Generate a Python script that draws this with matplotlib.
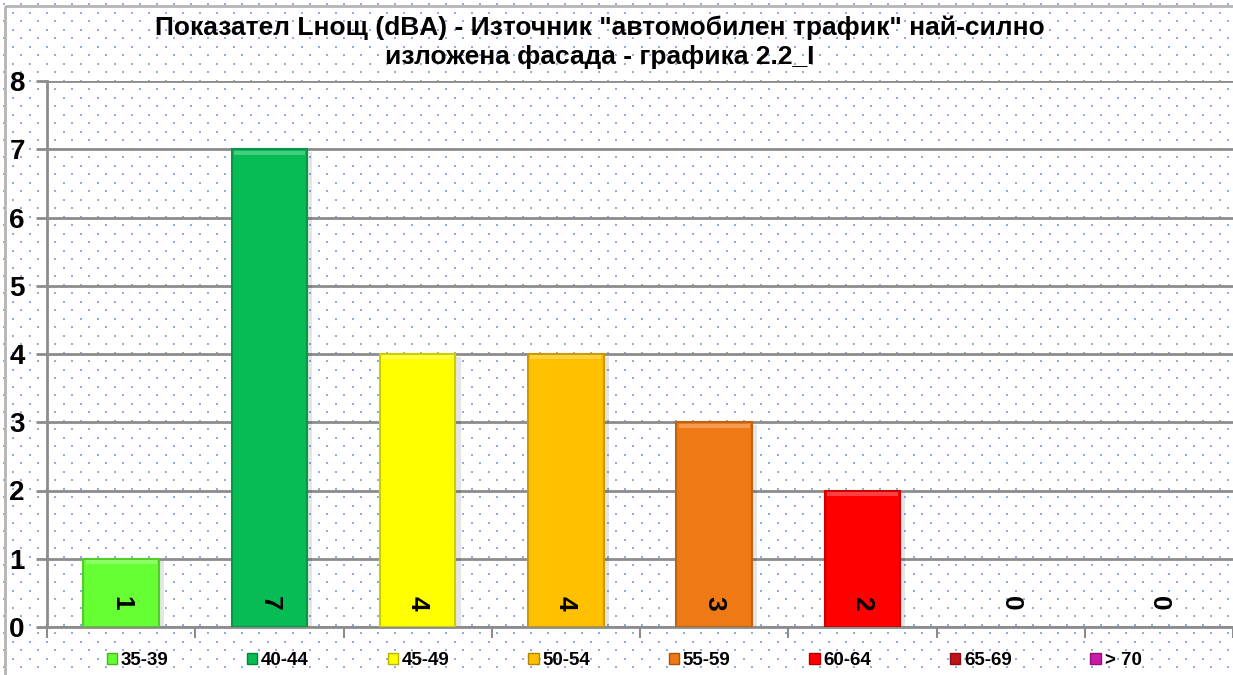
import matplotlib.pyplot as plt
import numpy as np
from matplotlib.patches import Patch, Rectangle
from matplotlib.colors import to_rgb

plt.rcParams["font.family"] = ["Liberation Sans", "DejaVu Sans"]

title_lines = [
    'Показател Lнощ (dBA) - Източник "автомобилен трафик" най-силно',
    "изложена фасада - графика 2.2_I",
]
categories = ["35-39", "40-44", "45-49", "50-54", "55-59", "60-64", "65-69", "> 70"]
counts = [1, 7, 4, 4, 3, 2, 0, 0]
colors = ["#66ff33", "#07bb55", "#ffff00", "#ffc000", "#ef7a15", "#ff0000",
          "#c0141a", "#cc1aa8"]


def shade(c, f):
    r, g, b = to_rgb(c)
    return (r * f, g * f, b * f)


def tint(c, f):
    r, g, b = to_rgb(c)
    return (r + (1 - r) * f, g + (1 - g) * f, b + (1 - b) * f)


W, H = 1233, 675
fig = plt.figure(figsize=(W / 100, H / 100), dpi=100)

# dotted background over the whole figure
bg = fig.add_axes([0, 0, 1, 1], zorder=-5)
bg.set_xlim(0, W)
bg.set_ylim(H, 0)
bg.axis("off")
dx, dy = 17.0, 8.5
ys = np.arange(4, H, dy)
px, py = [], []
for i, yy in enumerate(ys):
    xs = np.arange(4 + (dx / 2 if i % 2 else 0), W, dx)
    px.extend(xs)
    py.extend([yy] * len(xs))
bg.scatter(px, py, s=2.6, marker="s", color="#8fb0de", linewidths=0)
bg.add_patch(Rectangle((5, 6), W, H, fill=False, edgecolor="#b4b4b4", lw=2))

ax = fig.add_axes([47 / W, 1 - 627 / H, 1 - 47 / W, (627 - 81) / H])
ax.set_facecolor("none")

x = np.arange(len(categories))
bar_w = 0.51
for xi, v, c in zip(x, counts, colors):
    if v > 0:
        # soft shadow to the right
        ax.bar(xi + 0.035, v, bar_w, bottom=-0.04, color="#000000", alpha=0.10,
               zorder=2, linewidth=0)
        ax.bar(xi, v, bar_w, color=c, edgecolor=shade(c, 0.8), linewidth=1.5,
               zorder=3)
        # light bevel along the top edge
        ax.bar(xi, 0.06, bar_w * 0.94, bottom=v - 0.08, color=tint(c, 0.25),
               linewidth=0, zorder=4)
    ax.text(xi, 0.35, str(v), rotation=-90, ha="center", va="center",
            fontsize=19, fontweight="bold", color="black", zorder=5)

ax.set_xlim(-0.5, len(categories) - 0.5)
ax.set_ylim(0, 8)
ax.set_yticks(range(0, 9))
ax.yaxis.grid(True, color="#8c8c8c", linewidth=2)
ax.set_axisbelow(True)
ax.set_xticks(np.arange(len(categories) + 1) - 0.5)
ax.set_xticklabels([])
ax.tick_params(axis="x", length=8, width=1.5, color="#8c8c8c", direction="out")
ax.tick_params(axis="y", length=8, width=2, color="#8c8c8c", pad=8,
               labelsize=20)
for lab in ax.get_yticklabels():
    lab.set_fontweight("bold")
for side in ["top", "right"]:
    ax.spines[side].set_visible(False)
for side in ["left", "bottom"]:
    ax.spines[side].set_color("#8c8c8c")
    ax.spines[side].set_linewidth(2)

handles = [Patch(facecolor=c, edgecolor=shade(c, 0.7), linewidth=1) for c in colors]
leg = ax.legend(handles, categories, ncol=len(categories), loc="upper center",
                bbox_to_anchor=(0.4865, -0.015), frameon=False,
                prop={"weight": "bold", "size": 13.5}, handlelength=0.55,
                handleheight=0.55, handletextpad=0.2, columnspacing=4.2)

fig.text(600 / W, 1 - 28 / H, title_lines[0], ha="center", va="center",
         fontsize=19, fontweight="bold")
fig.text(600 / W, 1 - 57 / H, title_lines[1], ha="center", va="center",
         fontsize=19, fontweight="bold")

fig.savefig("out.png", dpi=100)
